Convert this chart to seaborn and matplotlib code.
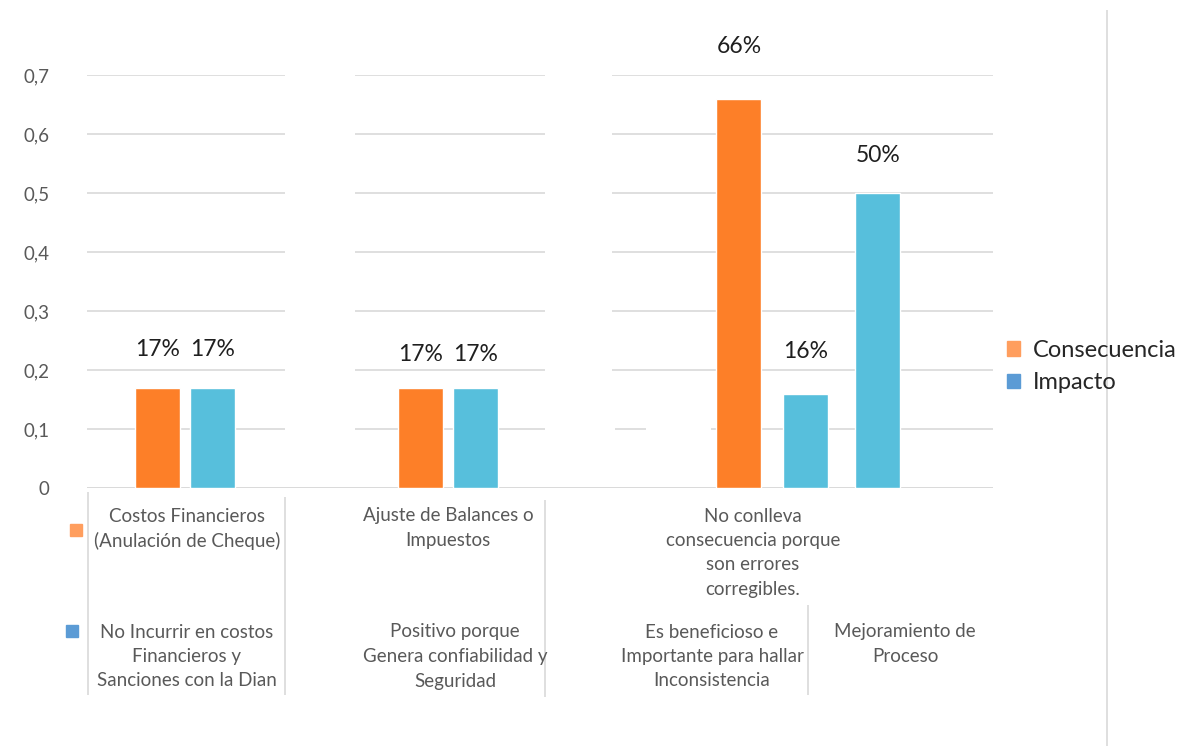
import matplotlib
matplotlib.use("Agg")
import matplotlib.pyplot as plt
from matplotlib.patches import Patch, Rectangle
import pandas as pd
import seaborn as sns

# ---- data -------------------------------------------------------------
series_names = ["Consecuencia", "Impacto"]

consecuencia_labels = [
    "Costos Financieros\n(Anulación de Cheque)",
    "Ajuste de Balances o\nImpuestos",
    "No conlleva\nconsecuencia porque\nson errores\ncorregibles.",
]
consecuencia_values = [0.17, 0.17, 0.66]

impacto_labels = [
    "No Incurrir en costos\nFinancieros y\nSanciones con la Dian",
    "Positivo porque\nGenera confiabilidad y\nSeguridad",
    "Es beneficioso e\nImportante para hallar\nInconsistencia",
    "Mejoramiento de\nProceso",
]
impacto_values = [0.17, 0.17, 0.16, 0.50]

y_ticks = [0, 0.1, 0.2, 0.3, 0.4, 0.5, 0.6, 0.7]
y_tick_labels = ["0", "0,1", "0,2", "0,3", "0,4", "0,5", "0,6", "0,7"]

# ---- layout (canvas pixels) ------------------------------------------
W, H = 1191, 746
PLOT_LEFT, PLOT_RIGHT, PLOT_TOP, PLOT_BOTTOM = 87, 993, 75, 488
cons_centers = [158, 421, 739]
imp_centers = [213, 476, 806, 878]
BAR_WIDTH = 45
cons_label_gap = [38, 33, 52]
imp_label_gap = [38, 33, 42, 37]

cons_text_x = [187, 448, 753]
imp_text_x = [187, 455, 712, 905]
ROW1_Y, ROW2_Y, LINE_GAP = 516, 632, 24.5

grid_segments = [(87, 285), (355, 545), (612, 993)]
grid_segments_01 = [(87, 285), (355, 545), (615, 646), (711, 993)]

# ---- styles -----------------------------------------------------------
bar_colors = {"Consecuencia": "#FD7F28", "Impacto": "#57BFDC"}
key_colors = {"Consecuencia": "#FF9E5E", "Impacto": "#5B9BD5"}
GRID = "#D9D9D9"
TEXT = "#595959"

sns.set_theme(style="white")
plt.rcParams["font.family"] = ["Lato", "DejaVu Sans"]

fig = plt.figure(figsize=(W / 100, H / 100), dpi=100)
ax = fig.add_axes([PLOT_LEFT / W, 1 - PLOT_BOTTOM / H,
                   (PLOT_RIGHT - PLOT_LEFT) / W, (PLOT_BOTTOM - PLOT_TOP) / H])

df = pd.DataFrame({
    "pos": cons_centers + imp_centers,
    "valor": consecuencia_values + impacto_values,
    "serie": [series_names[0]] * len(consecuencia_values)
             + [series_names[1]] * len(impacto_values),
})
positions = sorted(df["pos"])
min_step = min(b - a for a, b in zip(positions, positions[1:]))

sns.barplot(data=df, x="pos", y="valor", hue="serie", native_scale=True,
            dodge=False, width=BAR_WIDTH / min_step, palette=bar_colors,
            saturation=1, errorbar=None, legend=False, ax=ax, zorder=2)

# value labels above the bars
gaps = cons_label_gap + imp_label_gap
for (pos, val), gap in zip(df[["pos", "valor"]].itertuples(index=False), gaps):
    ax.annotate(f"{val:.0%}", xy=(pos, val), xytext=(0, gap),
                textcoords="offset pixels", ha="center", va="center",
                fontsize=16.5, color="#1F1F1F", annotation_clip=False)

# horizontal gridlines, broken into segments
for t in y_ticks[1:]:
    segs = grid_segments_01 if t == 0.1 else grid_segments
    for a, b in segs:
        ax.hlines(t, a, b, color=GRID, lw=1.2, zorder=0)
ax.hlines(0, PLOT_LEFT, PLOT_RIGHT, color=GRID, lw=1.4, zorder=1)

ax.set_xlim(PLOT_LEFT, PLOT_RIGHT)
ax.set_ylim(0, 0.7)
ax.set_xticks([])
ax.set_yticks(y_ticks)
ax.set_yticklabels(y_tick_labels)
ax.tick_params(axis="y", length=0, pad=27, labelsize=13.5, labelcolor=TEXT)
ax.set_xlabel("")
ax.set_ylabel("")
for s in ax.spines.values():
    s.set_visible(False)
ax.patch.set_alpha(0)

# ---- category table under the axis -----------------------------------
ov = fig.add_axes([0, 0, 1, 1])
ov.set_xlim(0, W)
ov.set_ylim(H, 0)
ov.axis("off")
ov.patch.set_alpha(0)

for x, lab in zip(cons_text_x, consecuencia_labels):
    for i, line in enumerate(lab.split("\n")):
        ov.text(x, ROW1_Y + i * LINE_GAP, line, ha="center", va="center",
                fontsize=13.5, color=TEXT)
for x, lab in zip(imp_text_x, impacto_labels):
    for i, line in enumerate(lab.split("\n")):
        ov.text(x, ROW2_Y + i * LINE_GAP, line, ha="center", va="center",
                fontsize=13.5, color=TEXT)

for x, y0, y1 in [(88, 492, 695), (285, 497, 695), (545, 500, 697), (808, 605, 695)]:
    ov.vlines(x, y0, y1, color=GRID, lw=1.2)
ov.vlines(1107, 10, H, color=GRID, lw=1.2)

ov.add_patch(Rectangle((70, 524), 12, 12, color=key_colors["Consecuencia"]))
ov.add_patch(Rectangle((66, 625), 12, 12, color=key_colors["Impacto"]))

# ---- legend -----------------------------------------------------------
handles = [Patch(color=key_colors[n]) for n in series_names]
fig.legend(handles, series_names, loc="center left",
           bbox_to_anchor=(1007 / W, 1 - 366.5 / H), frameon=False,
           fontsize=17, handlelength=0.55, handleheight=0.55,
           handletextpad=0.55, labelspacing=0.48, borderpad=0,
           borderaxespad=0, labelcolor="#262626")

fig.savefig("out.png", dpi=100)
